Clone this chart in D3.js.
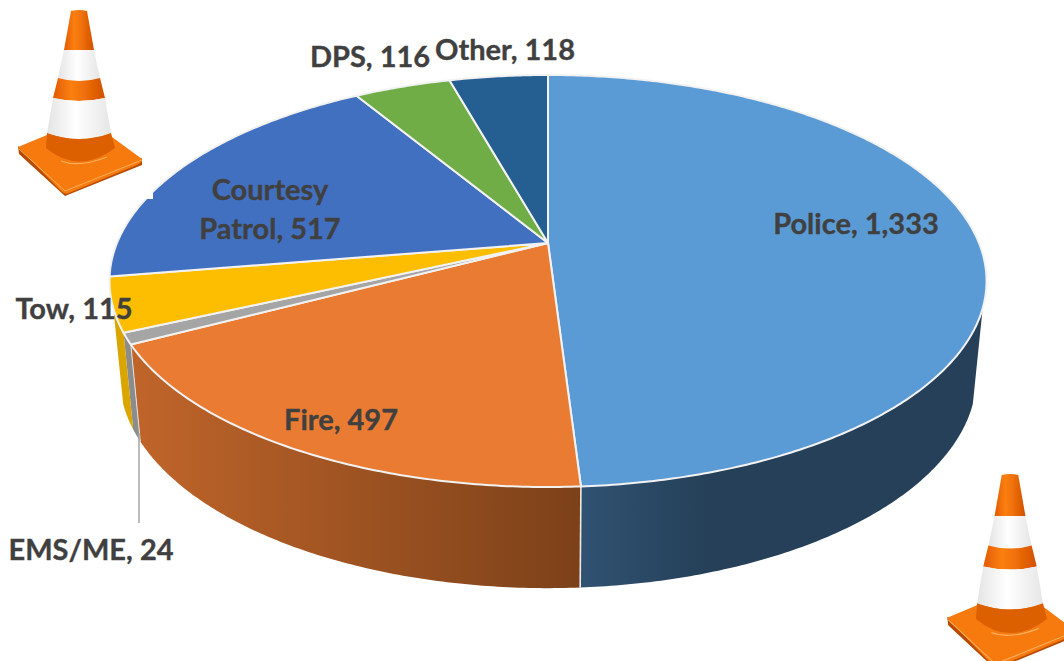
<!DOCTYPE html>
<html><head><meta charset="utf-8">
<script src="https://cdn.jsdelivr.net/npm/d3@7"></script>
<style>html,body{margin:0;padding:0;background:#fff}svg{display:block}
text{font-family:Lato,"Open Sans",sans-serif;font-weight:700;fill:#404040;font-size:29px;stroke:#404040;stroke-width:.35px}</style>
</head><body><div id="c"></div>
<script>
const categories=["Police","Fire","EMS/ME","Tow","Courtesy Patrol","DPS","Other"];
const values=[1333,497,24,115,517,116,118];
const valueText=["1,333","497","24","115","517","116","118"];
const colors=["#5b9bd5","#ea7b32","#a5a5a5","#fdbd00","#4270c0","#70ad47","#255e91"];
const wallFrom=["#305272","#c0652a","#8c8c8c","#dba500"];
const wallTo=["#254058","#7c4119","#8c8c8c","#dba500"];
const labelAt=[[856,234],[341,430],[91,560],[74,319],[270,0],[370,67],[505,60]];

const W=1064,H=661;
const svg=d3.select("#c").append("svg").attr("width",W).attr("height",H);
const defs=svg.append("defs");

const cx=548,C=0.1845;
const topL={ay:243,k:431,A:199};
const botL={ay:337,k:421.2,A:204.8};
function project(a,L){
  const u=Math.sin(a),v=Math.cos(a),w=1+C*v;
  return [cx+L.k*u/w,L.ay-L.A*v/w];
}
function arcPts(a0,a1,L){
  const n=Math.max(2,Math.ceil((a1-a0)/0.01));
  return d3.range(n+1).map(i=>project(a0+(a1-a0)*i/n,L));
}
const line=d3.line();
const arcs=d3.pie().sort(null).value(d=>d)(values);
const R=Math.PI/180, visA=108*R, visB=252*R;
const wallG=svg.append("g");

// side walls
arcs.forEach((d,i)=>{
  const a0=Math.max(d.startAngle,visA),a1=Math.min(d.endAngle,visB);
  if(a1<=a0)return;
  const t=arcPts(a0,a1,topL),b=arcPts(a0,a1,botL).reverse();
  const xs=t.concat(b).map(p=>p[0]);
  const id="w"+i;
  const x0=d3.min(xs);
  const g=defs.append("linearGradient").attr("id",id).attr("gradientUnits","userSpaceOnUse")
    .attr("x1",x0).attr("x2",i==0?x0+130:d3.max(xs)).attr("y1",0).attr("y2",0);
  g.append("stop").attr("offset",0).attr("stop-color",wallFrom[i]);
  g.append("stop").attr("offset",1).attr("stop-color",wallTo[i]);
  wallG.append("path").attr("d",line(t.concat(b))+"Z").attr("fill",`url(#${id})`);
});
// divider between the front walls
const split=arcs[0].endAngle;
wallG.append("path").attr("d",line([project(split,topL),project(split,botL)]))
  .attr("stroke","#eee8e2").attr("stroke-width",1.6).attr("fill","none");
const split2=arcs[1].endAngle;
wallG.append("path").attr("d",line([project(split2,topL),project(split2,botL)]))
  .attr("stroke","#e4e4e4").attr("stroke-width",1).attr("fill","none");
svg.append("line").attr("x1",139).attr("x2",139).attr("y1",433).attr("y2",523)
  .attr("stroke","#a6a6a6").attr("stroke-width",1.5);

// top surface
svg.append("g").selectAll("path").data(arcs).join("path")
  .attr("d",d=>line([[cx,topL.ay],...arcPts(d.startAngle,d.endAngle,topL)])+"Z")
  .attr("fill",(d,i)=>colors[i]).attr("stroke","#f2f2f2").attr("stroke-width",2).attr("stroke-linejoin","round");

// cones
const cg=defs.append("linearGradient").attr("id","co");
[[0,"#e25a00"],[.35,"#fb8012"],[.6,"#ef7008"],[1,"#d25000"]].forEach(s=>cg.append("stop").attr("offset",s[0]).attr("stop-color",s[1]));
const wg=defs.append("linearGradient").attr("id","wh");
[[0,"#e4e4e4"],[.45,"#ffffff"],[1,"#e6e6e6"]].forEach(s=>wg.append("stop").attr("offset",s[0]).attr("stop-color",s[1]));
defs.append("filter").attr("id","soft").append("feGaussianBlur").attr("stdDeviation",0.7);
function cone(tx,ty,sx,sy){
  const g=svg.append("g").attr("transform",`translate(${tx},${ty}) scale(${sx},${sy})`).attr("filter","url(#soft)");
  g.append("path").attr("d","M-61,136 L-60,144 L-14,186 L63,155 L63,148 L-14,180Z").attr("fill","#b84a00");
  g.append("path").attr("d","M-61,137 L-32,125 L33,127 L63,149 Q64,152 58,155 L-10,183 Q-14,185 -18,181Z").attr("fill","#f67a0c");
  g.append("path").attr("d","M-60,139 L-14,181 L63,150").attr("fill","none").attr("stroke","#ffb060").attr("stroke-width",1);
  g.append("path").attr("d","M-8,1 Q0,-1 8,1 L15,40 L-15,40Z").attr("fill","url(#co)");
  g.append("path").attr("d","M-15,40 L15,40 Q18,55 21,68 Q0,74 -21,68Z").attr("fill","url(#wh)");
  g.append("path").attr("d","M-21,68 Q0,74 21,68 L26,88 Q0,94 -26,88Z").attr("fill","url(#co)");
  g.append("path").attr("d","M-26,88 Q0,94 26,88 L32,123 Q0,135 -32,123Z").attr("fill","url(#wh)");
  g.append("path").attr("d","M-32,123 Q0,135 32,123 L36,138 Q0,165 -33,138Z").attr("fill","#dc5f00");
  g.append("path").attr("d","M-18,151 Q0,158 28,147").attr("fill","none").attr("stroke","#ffb060").attr("stroke-width",1.2);
}
svg.append("rect").attr("x",0).attr("y",0).attr("width",153).attr("height",199).attr("fill","#fff");
cone(79,10,1,1);
cone(1010,474,1.03,1.05);

// labels
arcs.forEach((d,i)=>{
  const t=svg.append("text").attr("text-anchor","middle");
  if(categories[i]==="Courtesy Patrol"){
    t.append("tspan").attr("x",270).attr("y",200).text("Courtesy");
    t.append("tspan").attr("x",270).attr("y",239).text("Patrol, "+valueText[i]);
  } else {
    t.attr("x",labelAt[i][0]).attr("y",labelAt[i][1]).text(categories[i]+", "+valueText[i]);
  }
});
</script></body></html>
